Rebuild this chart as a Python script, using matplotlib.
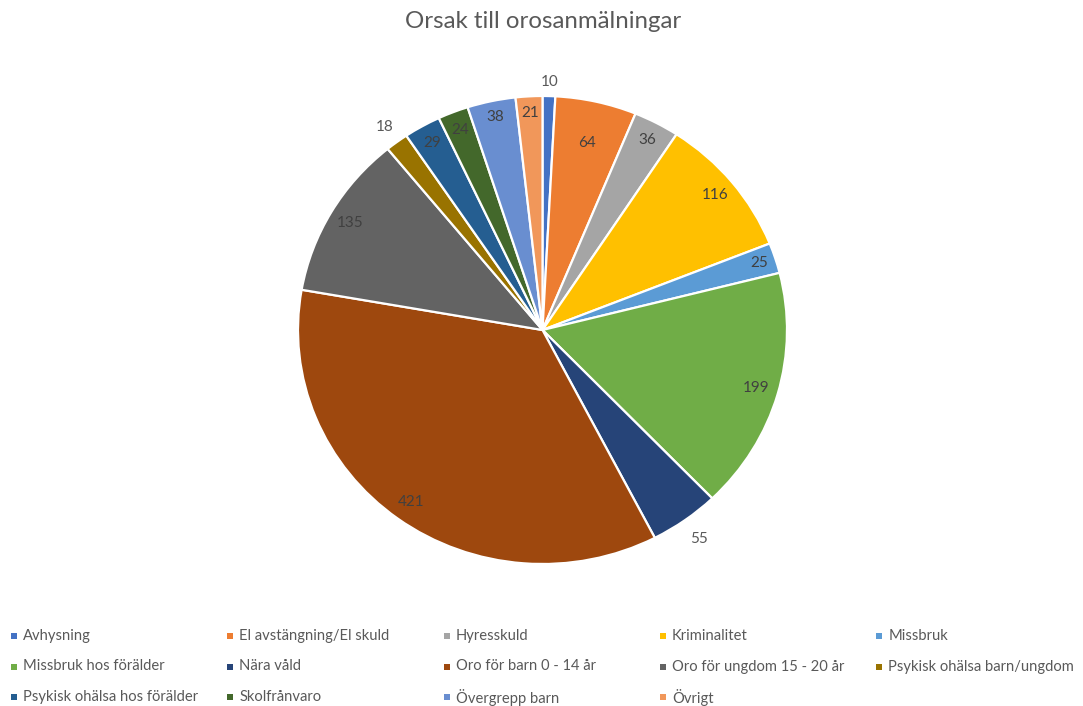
import matplotlib
matplotlib.use("Agg")
import matplotlib.pyplot as plt
import numpy as np
from matplotlib.patches import Rectangle

title = "Orsak till orosanmälningar"
categories = ["Avhysning", "El avstängning/El skuld", "Hyresskuld", "Kriminalitet",
              "Missbruk", "Missbruk hos förälder", "Nära våld", "Oro för barn 0 - 14 år",
              "Oro för ungdom 15 - 20 år", "Psykisk ohälsa barn/ungdom",
              "Psykisk ohälsa hos förälder", "Skolfrånvaro", "Övergrepp barn", "Övrigt"]
values = [10, 64, 36, 116, 25, 199, 55, 421, 135, 18, 29, 24, 38, 21]
colors = ["#4472C4", "#ED7D31", "#A5A5A5", "#FFC000", "#5B9BD5", "#70AD47", "#264478",
          "#9E480E", "#636363", "#997300", "#255E91", "#43682B", "#698ED0", "#F1975A"]
# label distance (fraction of radius) per slice, style only
label_dist = [1.06, 0.82, 0.92, 0.91, 0.93, 0.91, 1.10, 0.91, 0.91, 1.08, 0.92, 0.92, 0.93, 0.93]

W, H = 1083, 706
fig = plt.figure(figsize=(W / 100, H / 100), dpi=100)
FONT = ["Lato", "DejaVu Sans"]

# pie geometry in pixels (slightly elliptical as in reference)
cx, cy, rx, ry = 542.5, 330.0, 244.5, 234.0
lim = 1.3
aw, ah = 2 * lim * rx, 2 * lim * ry
ax = fig.add_axes([(cx - aw / 2) / W, (H - cy - ah / 2) / H, aw / W, ah / H])

wedges, _ = ax.pie(values, colors=colors, startangle=90, counterclock=False,
                   wedgeprops=dict(edgecolor="white", linewidth=1.6))
ax.set_aspect("auto")
ax.set_xlim(-lim, lim)
ax.set_ylim(-lim, lim)
ax.axis("off")

for w, v, d in zip(wedges, values, label_dist):
    ang = np.deg2rad((w.theta1 + w.theta2) / 2)
    col = "#404040" if d < 1 else "#595959"
    ax.text(d * np.cos(ang), d * np.sin(ang), str(v), ha="center", va="center",
            fontsize=11, color=col, family=FONT)

fig.text(543 / W, 1 - 21 / H, title, ha="center", va="center", fontsize=17.3,
         color="#595959", family=FONT)

# legend, row-wise 5 columns
x0, dx = 14, 216.3
y0, dy = 636, 30.5
for i, (lab, c) in enumerate(zip(categories, colors)):
    r, k = divmod(i, 5)
    mx = x0 + k * dx
    my = y0 + r * dy
    fig.patches.append(Rectangle(((mx - 3) / W, 1 - (my + 3) / H), 6 / W, 6 / H,
                                 transform=fig.transFigure, facecolor=c, edgecolor="none"))
    fig.text((mx + 9) / W, 1 - my / H, lab, ha="left", va="center", fontsize=10.6,
             color="#595959", family=FONT)

fig.savefig("out.png", dpi=100, facecolor="white")
